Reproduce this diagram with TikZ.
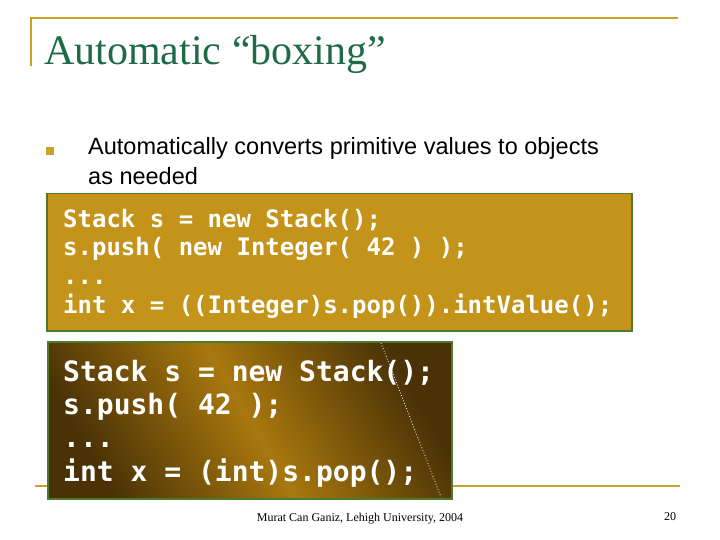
\documentclass[tikz,border=0pt]{standalone}
\usepackage{fontspec}
\setmainfont{Liberation Serif}
\newfontfamily\arialf{Liberation Sans}
\newfontfamily\codef{DejaVu Sans Mono}
\definecolor{gold}{HTML}{C9A227}
\definecolor{titlegreen}{HTML}{1E6B45}
\definecolor{boxfill}{HTML}{C3931A}
\definecolor{boxedge}{HTML}{4E7A2E}
\definecolor{darkbrown}{HTML}{4A3206}
\definecolor{midgold}{HTML}{A8780E}
\begin{document}
\begin{tikzpicture}[x=1pt,y=-1pt,
  codeline/.style={anchor=base west,text=white,inner sep=0pt},
  rule/.style={draw=gold,line width=2.5pt}]
\useasboundingbox (0,0) rectangle (720,540);
\fill[white] (0,0) rectangle (720,540);
% frame lines
\coordinate (t1) at (30,18); \coordinate (t2) at (678,18);
\coordinate (v1) at (31,17); \coordinate (v2) at (31,66);
\coordinate (b1) at (35,486); \coordinate (b2) at (680,486);
\draw[rule] (t1) -- (t2);
\draw[draw=gold,line width=2pt] (v1) -- (v2);
\draw[rule] (b1) -- (b2);
% title
\node[anchor=base west,inner sep=0pt,text=titlegreen,font=\fontsize{42}{46}\selectfont] (title) at (44,65) {Automatic “boxing”};
% bullet
\node[fill=gold,minimum size=8pt,inner sep=0pt] (bul) at (50,151) {};
\node[anchor=base west,inner sep=0pt,font=\arialf\fontsize{23.5}{30}\selectfont] (txt) at (88,155) {Automatically converts primitive values to objects};
\node[anchor=base west,inner sep=0pt,font=\arialf\fontsize{23.5}{30}\selectfont] (txt2) at (88,185) {as needed};
% box 1
\node[draw=boxedge,line width=1.5pt,fill=boxfill,minimum width=585pt,minimum height=137pt,anchor=north west] (box1) at (46,193) {};
\begin{scope}[font=\codef\bfseries\fontsize{24}{28}\selectfont]
\node[codeline] (c1) at (63,227) {Stack s = new Stack();};
\node[codeline] (c2) at (63,255) {s.push( new Integer( 42 ) );};
\node[codeline] (c3) at (63,284) {...};
\node[codeline] (c4) at (63,313) {int x = ((Integer)s.pop()).intValue();};
\end{scope}
% box 2
\node[draw=boxedge,line width=1.5pt,left color=darkbrown,right color=darkbrown,middle color=midgold,shading angle=-60,minimum width=404pt,minimum height=157pt,anchor=north west] (box2) at (47,341) {};
\coordinate (d1) at (381,343); \coordinate (d2) at (441,497);
\draw[white,dotted,line width=0.8pt] (d1) -- (d2);
\begin{scope}[font=\codef\bfseries\fontsize{28}{34}\selectfont]
\node[codeline] (e1) at (63,381) {Stack s = new Stack();};
\node[codeline] (e2) at (63,414) {s.push( 42 );};
\node[codeline] (e3) at (63,447) {...};
\node[codeline] (e4) at (63,481) {int x = (int)s.pop();};
\end{scope}
% footer
\node[anchor=base,inner sep=0pt,font=\fontsize{12}{14}\selectfont] (foot) at (360,521) {Murat Can Ganiz, Lehigh University, 2004};
\node[anchor=base,inner sep=0pt,font=\fontsize{12}{14}\selectfont] (num) at (670,520) {20};
\end{tikzpicture}
\end{document}
